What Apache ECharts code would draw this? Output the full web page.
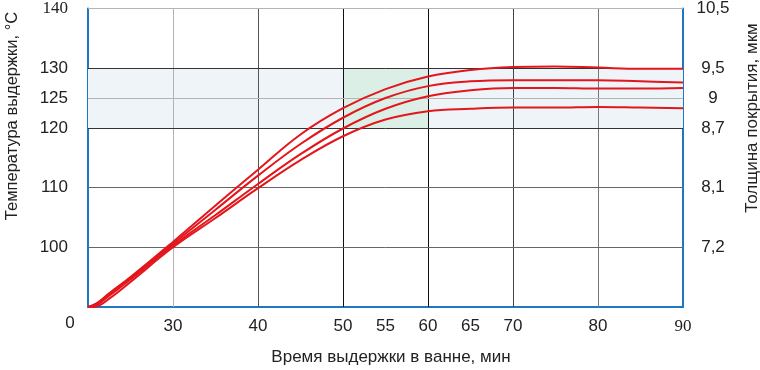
<!DOCTYPE html>
<html>
<head>
<meta charset="utf-8">
<script src="https://cdn.jsdelivr.net/npm/echarts@6/dist/echarts.min.js"></script>
<style>
    html, body { margin: 0; padding: 0; background: #fff; }
    #chart { width: 760px; height: 370px; }
</style>
</head>
<body>
<div id="chart"></div>
<script>
    // время выдержки, мин
    var times = [20, 21, 22.5, 25, 30, 35, 40, 45, 50, 55, 60, 65, 70, 75, 80, 85, 90];
    // четыре кривые, сверху вниз
    var curve1 = [90.0, 90.6, 92.3, 95.0, 100.9, 107.0, 113.0, 118.9, 123.3, 126.5, 128.6, 129.7, 130.2, 130.3, 130.1, 129.9, 129.9];
    var curve2 = [90.0, 90.5, 92.2, 94.9, 100.6, 106.3, 112.0, 117.3, 121.7, 125.0, 127.0, 127.8, 128.0, 128.0, 128.0, 127.8, 127.6];
    var curve3 = [90.0, 90.3, 91.9, 94.6, 100.3, 105.4, 110.6, 115.6, 119.9, 123.2, 125.3, 126.3, 126.7, 126.7, 126.6, 126.6, 126.7];
    var curve4 = [90.0, 90.1, 91.4, 94.2, 100.0, 104.9, 109.9, 114.6, 118.6, 121.4, 122.8, 123.2, 123.4, 123.4, 123.5, 123.4, 123.3];

    // подписи осей
    var xTicks = [30, 40, 50, 55, 60, 65, 70, 80, 90];
    var tempTicks = [100, 110, 120, 125, 130, 140];
    var thickLabels = ['7,2', '8,1', '8,7', '9', '9,5', '10,5'];
    var serifTicks = [90, 140];

    var xGrid = [30, 40, 50, 60, 70, 80];
    var xGridColor = ['#b4b4b4', '#555', '#111', '#111', '#444', '#777'];
    var yGrid = [100, 110, 120, 125, 130, 140];
    var yGridColor = ['#666', '#666', '#333', '#b4b4b4', '#333', '#b4b4b4'];

    var blue = '#1f78c1';
    var red = '#e3161c';
    var font = 'Liberation Sans';

    function pairs(vals) {
        var out = [];
        for (var i = 0; i < times.length; i++) {
            out.push([times[i], vals[i]]);
        }
        return out;
    }

    function tickText(value, list, labels) {
        var i = list.indexOf(value);
        if (i < 0) return '';
        var txt = labels ? labels[i] : String(value);
        return serifTicks.indexOf(value) >= 0 && !labels ? '{s|' + txt + '}' : txt;
    }

    var curveSeries = [curve1, curve2, curve3, curve4].map(function (c, i) {
        return {
            name: 'curve' + (i + 1),
            type: 'line',
            data: pairs(c),
            smooth: 0.4,
            symbol: 'none',
            z: 5,
            lineStyle: { color: red, width: 2 }
        };
    });

    var myChart = echarts.init(document.getElementById('chart'));
    myChart.setOption({
        animation: false,
        backgroundColor: '#fff',
        grid: { left: 88, right: 77, top: 7, bottom: 63 },
        xAxis: {
            type: 'value',
            min: 20,
            max: 90,
            interval: 5,
            axisLine: { show: true, lineStyle: { color: blue, width: 2 } },
            axisTick: { show: false },
            splitLine: { show: false },
            axisLabel: {
                margin: 11,
                color: '#222',
                fontFamily: font,
                fontSize: 17,
                showMinLabel: true,
                showMaxLabel: true,
                formatter: function (v) { return tickText(v, xTicks); },
                rich: { s: { fontFamily: 'Liberation Serif', fontSize: 17, color: '#222' } }
            }
        },
        yAxis: [{
            type: 'value',
            min: 90,
            max: 140,
            interval: 5,
            position: 'left',
            axisLine: { show: true, lineStyle: { color: blue, width: 2 } },
            axisTick: { show: false },
            splitLine: { show: false },
            axisLabel: {
                margin: 20,
                color: '#222',
                fontFamily: font,
                fontSize: 17,
                formatter: function (v) { return tickText(v, tempTicks); },
                rich: { s: { fontFamily: 'Liberation Serif', fontSize: 17, color: '#222' } }
            }
        }, {
            type: 'value',
            min: 90,
            max: 140,
            interval: 5,
            position: 'right',
            axisLine: { show: true, lineStyle: { color: blue, width: 2 } },
            axisTick: { show: false },
            splitLine: { show: false },
            axisLabel: {
                margin: 30,
                align: 'center',
                color: '#222',
                fontFamily: font,
                fontSize: 17,
                formatter: function (v) { return tickText(v, tempTicks, thickLabels); }
            }
        }],
        graphic: [{
            type: 'text', x: 70, y: 323,
            style: { text: '0', font: '17px Liberation Sans', fill: '#222', align: 'center', verticalAlign: 'middle' }
        }, {
            type: 'text', x: 391, y: 357,
            style: { text: 'Время выдержки в ванне, мин', font: '17px Liberation Sans', fill: '#222', align: 'center', verticalAlign: 'middle' }
        }, {
            type: 'text', x: 12, y: 116, rotation: Math.PI / 2,
            style: { text: 'Температура выдержки, °С', font: '16.5px Liberation Sans', fill: '#222', align: 'center', verticalAlign: 'middle' }
        }, {
            type: 'text', x: 752, y: 118, rotation: Math.PI / 2,
            style: { text: 'Толщина покрытия, мкм', font: '17px Liberation Sans', fill: '#222', align: 'center', verticalAlign: 'middle' }
        }],
        series: [{
            // заливка зоны 120-130
            type: 'line',
            data: [],
            z: 1,
            silent: true,
            markArea: {
                silent: true,
                data: [
                    [{ yAxis: 120, itemStyle: { color: '#eef4f8' } }, { yAxis: 130 }],
                    [{ xAxis: 50, yAxis: 120, itemStyle: { color: '#dcefe7' } }, { xAxis: 60, yAxis: 130 }]
                ]
            }
        }, {
            // сетка
            type: 'line',
            data: [],
            z: 2,
            silent: true,
            markLine: {
                silent: true,
                symbol: 'none',
                label: { show: false },
                data: xGrid.map(function (v, i) {
                    return { xAxis: v, lineStyle: { color: xGridColor[i], width: 1, type: 'solid' } };
                }).concat(yGrid.map(function (v, i) {
                    return { yAxis: v, lineStyle: { color: yGridColor[i], width: 1, type: 'solid' } };
                }))
            }
        }].concat(curveSeries)
    });
</script>
</body>
</html>
